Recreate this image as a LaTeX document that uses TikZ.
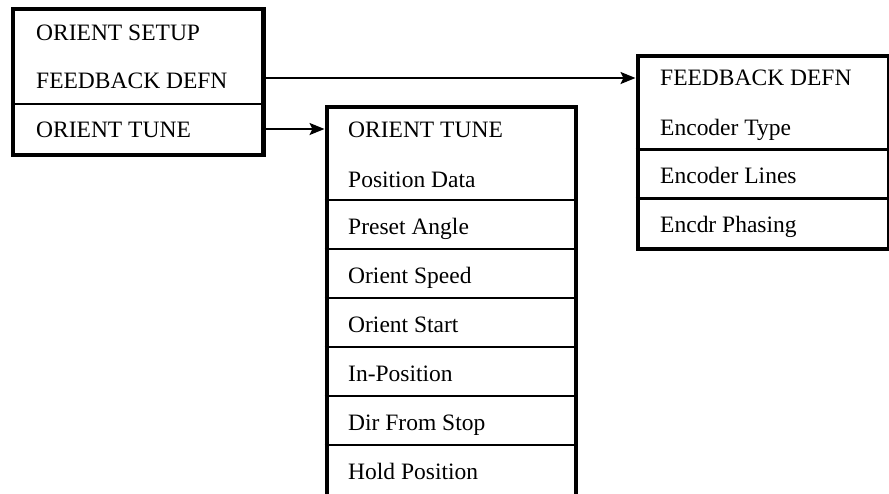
\documentclass[tikz,border=0pt]{standalone}
\usepackage{fontspec}
\setmainfont{Liberation Serif}
\usetikzlibrary{arrows.meta}

\tikzset{
  panel/.style={draw, line width=4.2pt, inner sep=0pt, anchor=north west},
  divider/.style={line width=2.6pt},
  item/.style={anchor=base west, inner sep=0pt, font=\fontsize{23.5}{28}\selectfont},
  link/.style={line width=2.2pt, -{Stealth[length=15pt,width=12pt,inset=3pt]}}
}

\begin{document}
\begin{tikzpicture}[x=1pt, y=-1pt]
  \clip (0,0) rectangle (889,493);

  % Main menu
  \node[panel, minimum width=250.5pt, minimum height=146pt] (setup) at (10.8,7) {};
  \node[item] (setupTitle) at (36,40) {ORIENT SETUP};
  \node[item] (setupFb)    at (36,88) {FEEDBACK DEFN};
  \node[item] (setupTune)  at (36,137) {ORIENT TUNE};
  \draw[divider] (setup.west |- 0,104) -- (setup.east |- 0,104);

  % Orient tune sub-menu (runs past the lower edge)
  \node[panel, minimum width=249pt, minimum height=410pt] (tune) at (324.5,104.5) {};
  \node[item] (tuneTitle) at (348,137) {ORIENT TUNE};
  \node[item] (tunePos)   at (348,187) {Position Data};
  \node[item] (tunePre)   at (348,234) {Preset Angle};
  \node[item] (tuneSpd)   at (348,283) {Orient Speed};
  \node[item] (tuneStart) at (348,332) {Orient Start};
  \node[item] (tuneInPos) at (348,381) {In-Position};
  \node[item] (tuneDir)   at (348,430) {Dir From Stop};
  \node[item] (tuneHold)  at (348,479) {Hold Position};
  \foreach \yy in {200,249,298,347,396,445}
    \draw[divider] (tune.west |- 0,\yy) -- (tune.east |- 0,\yy);

  % Feedback definition sub-menu
  \node[panel, minimum width=251pt, minimum height=192.5pt] (fbmenu) at (635.5,54) {};
  \node[item] (fbTitle) at (660,85)  {FEEDBACK DEFN};
  \node[item] (fbType)  at (660,135) {Encoder Type};
  \node[item] (fbLines) at (660,183) {Encoder Lines};
  \node[item] (fbPhase) at (660,232) {Encdr Phasing};
  \draw[divider] (fbmenu.west |- 0,149.5) -- (fbmenu.east |- 0,149.5);
  \draw[divider] (fbmenu.west |- 0,198.5) -- (fbmenu.east |- 0,198.5);

  % Connectors
  \coordinate (fbRow) at (0,78);
  \coordinate (tuneRow) at (0,129);
  \draw[link] (setup.east |- fbRow) -- (fbmenu.west |- fbRow);
  \draw[link] (setup.east |- tuneRow) -- (tune.west |- tuneRow);
\end{tikzpicture}
\end{document}
